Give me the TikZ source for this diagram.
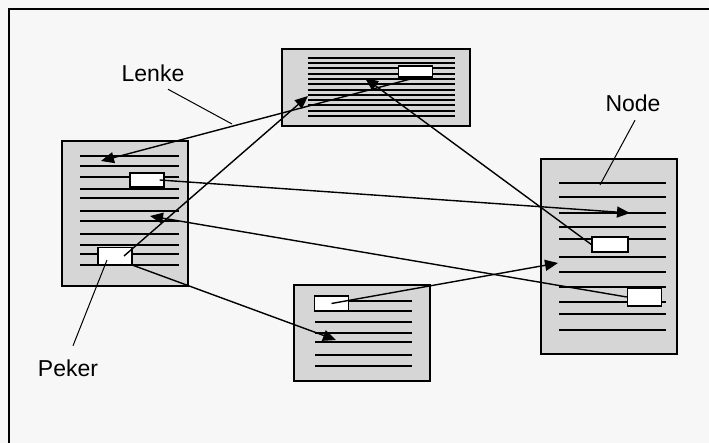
\documentclass[tikz,border=0pt]{standalone}
\usepackage{fontspec}
\setmainfont{Liberation Sans}
\usetikzlibrary{arrows.meta}

\begin{document}
\begin{tikzpicture}[x=1pt, y=-1pt,
        dok/.style={fill=papir, draw=black, line width=1.8pt},
        peker/.style={fill=white, draw=black, line width=1.4pt, inner sep=0pt,
            minimum width=34pt, minimum height=15pt},
        rad/.style={line width=1.6pt},
        lenke/.style={line width=1.4pt, -{Triangle[length=13pt, width=11pt]}},
        merke/.style={inner sep=0pt, font=\fontsize{23}{23}\selectfont},
        strek/.style={line width=1pt}]
        \definecolor{bakgrunn}{rgb}{0.969, 0.969, 0.969}
        \definecolor{papir}{rgb}{0.84, 0.84, 0.84}

        \fill [fill=bakgrunn] (0,0) rectangle (709,443);
        \useasboundingbox (0,0) rectangle (709,443);
        \draw [line width=2.5pt] (9,443) -- (9,9) -- (709,9);

        \draw [dok] (282,49) rectangle (470,126);
        \draw [dok] (62,141) rectangle (188,286);
        \draw [dok] (541,159) rectangle (677,354);
        \draw [dok] (294,285) rectangle (430,381);

        \foreach \y in {58,63,68,74,79,84,90,95,100,105,111,116}
            \draw [rad] (308,\y) -- (455,\y);
        \foreach \y in {156,166,177,189,198,211,221,234,245,254,265}
            \draw [rad] (80,\y) -- (179,\y);
        \foreach \y in {183,197,213,227,239,257,272,287,302,314,330}
            \draw [rad] (559,\y) -- (666,\y);
        \foreach \y in {301,311,322,333,342,355,366}
            \draw [rad] (315,\y) -- (412,\y);

        \node [peker, minimum height=11pt] (pT) at (415.5,71.5) {};
        \node [peker, minimum height=14pt] (pL1) at (147,180) {};
        \node [peker, minimum height=17pt] (pL2) at (115,256) {};
        \node [peker, minimum width=36pt] (pR1) at (610,244.5) {};
        \node [peker, minimum height=18pt] (pR2) at (644.5,297) {};
        \node [peker] (pB) at (331.5,303.5) {};

        \coordinate (mL1) at (101,161);
        \coordinate (mL2) at (150,216);
        \coordinate (mT1) at (308,96);
        \coordinate (mT2) at (365,78);
        \coordinate (mR1) at (630,213);
        \coordinate (mR2) at (558,263);
        \coordinate (mB) at (336,340);

        \draw [lenke] (pT.south) -- (mL1);
        \draw [lenke] ([xshift=9pt]pL2.center) -- (mT1);
        \draw [lenke] (pR1.west) -- (mT2);
        \draw [lenke] ([xshift=-5pt]pL1.east) -- (mR1);
        \draw [lenke] (pR2.west) -- (mL2);
        \draw [lenke] (pB.center) -- (mR2);
        \draw [lenke] (pL2.south east) -- (mB);

        \node [merke] (tLenke) at (153,73) {Lenke};
        \node [merke] (tNode) at (633,103) {Node};
        \node [merke] (tPeker) at (68,368) {Peker};

        \coordinate (eLenke) at (232,124);
        \coordinate (eNode) at (600,185);
        \coordinate (ePeker) at (107,260);

        \draw [strek] ([shift={(15,7.6)}]tLenke.south) -- (eLenke);
        \draw [strek] ([shift={(2,8.6)}]tNode.south) -- (eNode);
        \draw [strek] ([shift={(5,-13.6)}]tPeker.north) -- (ePeker);
    \end{tikzpicture}
\end{document}
